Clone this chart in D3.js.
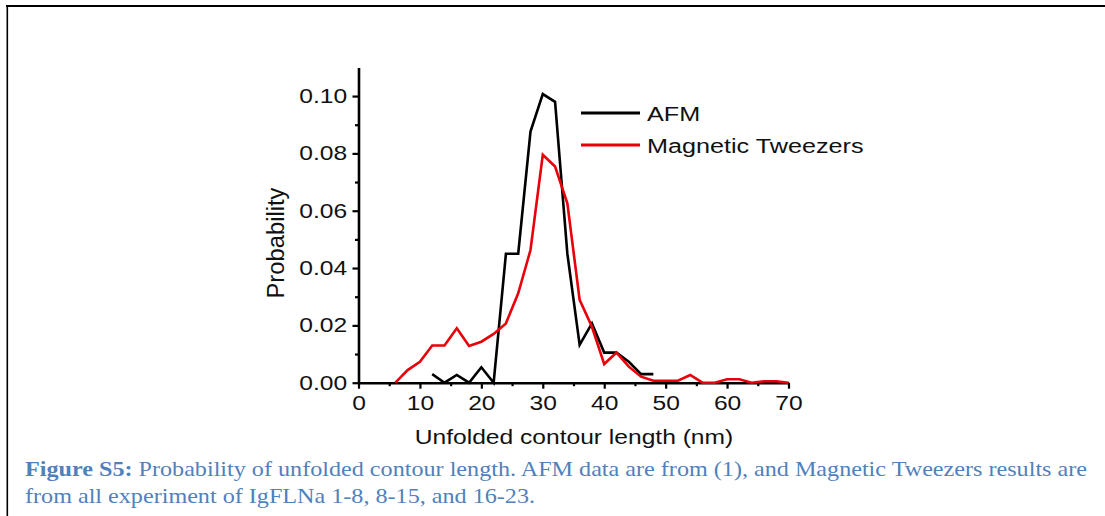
<!DOCTYPE html>
<html>
<head>
<meta charset="utf-8">
<script src="https://cdn.jsdelivr.net/npm/d3@7"></script>
<style>
  html, body { margin: 0; padding: 0; background: #fff; }
  svg { display: block; }
</style>
</head>
<body>
<div id="chart"></div>
<script>
// contour length bins (nm) and probabilities
const afmX = [12, 14, 16, 18, 20, 22, 24, 26, 28, 30, 32, 34, 36, 38, 40, 42, 44, 46, 48];
const afmY = [0.003, 0, 0.0027, 0, 0.0054, 0, 0.045, 0.045, 0.0876, 0.1007, 0.098, 0.045,
              0.0132, 0.0207, 0.0105, 0.0105, 0.0073, 0.003, 0.003];

const mtX = [6, 8, 10, 12, 14, 16, 18, 20, 22, 24, 26, 28, 30, 32, 34, 36, 38, 40, 42, 44,
             46, 48, 50, 52, 54, 56, 58, 60, 62, 64, 66, 68, 70];
const mtY = [0, 0.0044, 0.0073, 0.013, 0.013, 0.019, 0.0128, 0.0143, 0.017, 0.0207, 0.0312,
             0.0463, 0.0795, 0.0754, 0.0626, 0.0289, 0.0195, 0.0065, 0.0105, 0.0056,
             0.0021, 0.0007, 0.0007, 0.0007, 0.0027, 0, 0, 0.0012, 0.0012, 0, 0.0005, 0.0005, 0];

const seriesNames = ["AFM", "Magnetic Tweezers"];
const seriesColors = ["#000000", "#e8000a"];

const xMajor = [0, 10, 20, 30, 40, 50, 60, 70];
const xMinor = [5, 15, 25, 35, 45, 55, 65];
const yMajor = [0, 0.02, 0.04, 0.06, 0.08, 0.10];
const yMinor = [0.01, 0.03, 0.05, 0.07, 0.09];

const xTitle = "Unfolded contour length (nm)";
const yTitle = "Probability";
const captionBold = "Figure S5:";
const captionLine1 = " Probability of unfolded contour length. AFM data are from (1), and Magnetic Tweezers results are";
const captionLine2 = "from all experiment of IgFLNa 1-8, 8-15, and 16-23.";

const W = 1105, H = 516;
const stretch = 1.2; // the original figure is stretched sideways
const fontSans = "'Liberation Sans', Arial, sans-serif";

const svg = d3.select("#chart").append("svg")
    .attr("width", W)
    .attr("height", H);

// page frame (top + left rule)
svg.append("line").attr("x1", 6).attr("x2", W).attr("y1", 6).attr("y2", 6)
    .attr("stroke", "#000").attr("stroke-width", 2);
svg.append("line").attr("x1", 7.3).attr("x2", 7.3).attr("y1", 5).attr("y2", H)
    .attr("stroke", "#000").attr("stroke-width", 1.6);

const x = d3.scaleLinear().domain([0, 70]).range([358.5, 788.5]);
const y = d3.scaleLinear().domain([0, 0.11]).range([382.7, 67.4]);

// axes
const xAxis = svg.append("g").attr("transform", `translate(0,${y(0)})`)
    .call(d3.axisBottom(x).tickValues(xMajor).tickSize(6).tickSizeOuter(0).tickFormat(d3.format("d")));
svg.append("g").attr("transform", `translate(0,${y(0)})`)
    .call(d3.axisBottom(x).tickValues(xMinor).tickSize(3.5).tickSizeOuter(0).tickFormat(""))
    .select(".domain").remove();

const yAxis = svg.append("g").attr("transform", `translate(${x(0)},0)`)
    .call(d3.axisLeft(y).tickValues(yMajor).tickSize(6).tickSizeOuter(0).tickFormat(d3.format(".2f")));
svg.append("g").attr("transform", `translate(${x(0)},0)`)
    .call(d3.axisLeft(y).tickValues(yMinor).tickSize(3.5).tickSizeOuter(0).tickFormat(""))
    .select(".domain").remove();

svg.selectAll(".domain").attr("stroke-width", 2.6);
svg.selectAll(".tick line").attr("stroke-width", 2.2);

xAxis.selectAll("text")
    .attr("y", 13)
    .style("font-family", fontSans).style("font-size", "20.5px").attr("fill", "#111")
    .attr("transform", `scale(${stretch},1)`);
yAxis.selectAll("text")
    .attr("x", -9.5)
    .style("font-family", fontSans).style("font-size", "20.5px").attr("fill", "#111")
    .attr("transform", `scale(${stretch},1)`);

// axis titles
svg.append("g").attr("transform", `translate(574,444) scale(${stretch},1)`)
  .append("text")
    .attr("text-anchor", "middle")
    .style("font-family", fontSans).style("font-size", "20.5px").attr("fill", "#111")
    .text(xTitle);

svg.append("g").attr("transform", `translate(284,243) scale(${stretch},1.16) rotate(-90)`)
  .append("text")
    .attr("text-anchor", "middle")
    .style("font-family", fontSans).style("font-size", "20.5px").attr("fill", "#111")
    .text(yTitle);

// lines
const line = d3.line()
    .x(d => x(d[0]))
    .y(d => y(d[1]));

const series = [
  d3.zip(afmX, afmY),
  d3.zip(mtX, mtY)
];

// black first, red on top
series.forEach((s, i) => {
  svg.append("path")
      .datum(s)
      .attr("d", line)
      .attr("fill", "none")
      .attr("stroke", seriesColors[i])
      .attr("stroke-width", 2.6);
});

// legend
const legend = svg.append("g").attr("transform", "translate(581,113)");
seriesNames.forEach((name, i) => {
  const g = legend.append("g").attr("transform", `translate(0,${i * 32})`);
  g.append("line").attr("x1", 0).attr("x2", 59).attr("y1", 0).attr("y2", 0)
      .attr("stroke", seriesColors[i]).attr("stroke-width", 2.8);
  g.append("g").attr("transform", `translate(66,8) scale(${stretch},1)`)
    .append("text")
      .style("font-family", fontSans).style("font-size", "21px").attr("fill", "#111")
      .text(name);
});

// caption
const cap = svg.append("g")
    .style("font-family", "'Liberation Serif', 'Times New Roman', serif")
    .style("font-size", "21px")
    .attr("fill", "#4f81bd");

const t1 = cap.append("text").attr("x", 25).attr("y", 476)
    .attr("textLength", 1062).attr("lengthAdjust", "spacingAndGlyphs");
t1.append("tspan").style("font-weight", "bold").text(captionBold);
t1.append("tspan").text(captionLine1);

cap.append("text").attr("x", 25).attr("y", 503)
    .attr("textLength", 510).attr("lengthAdjust", "spacingAndGlyphs")
    .text(captionLine2);
</script>
</body>
</html>
